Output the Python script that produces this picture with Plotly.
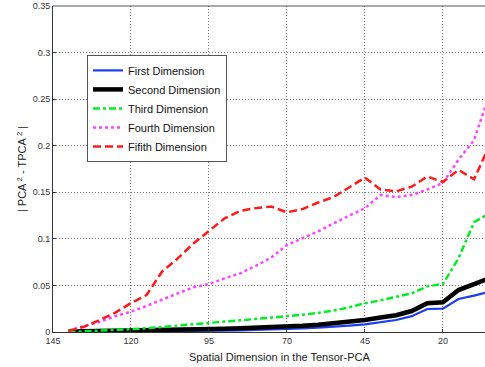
import plotly.graph_objects as go

x_vals = [140, 135, 130, 125, 120, 115, 110, 105, 100, 95, 90, 85, 80, 75, 70,
          65, 60, 55, 50, 45, 40, 35, 30, 25, 20, 15, 10, 5]

first_dim = [0.0000, 0.0001, 0.0002, 0.0002, 0.0003, 0.0005, 0.0006, 0.0008, 0.0010, 0.0012,
             0.0015, 0.0018, 0.0021, 0.0025, 0.0030, 0.0038, 0.0046, 0.0055, 0.0068, 0.0082,
             0.0105, 0.0129, 0.0170, 0.0247, 0.0250, 0.0354, 0.0390, 0.0433]
second_dim = [0.0005, 0.0007, 0.0009, 0.0011, 0.0013, 0.0016, 0.0019, 0.0022, 0.0025, 0.0030,
              0.0035, 0.0040, 0.0045, 0.0050, 0.0057, 0.0066, 0.0078, 0.0093, 0.0110, 0.0129,
              0.0155, 0.0180, 0.0225, 0.0310, 0.0320, 0.0450, 0.0515, 0.0580]
third_dim = [0.0000, 0.0006, 0.0012, 0.0020, 0.0030, 0.0040, 0.0055, 0.0070, 0.0090, 0.0100,
             0.0112, 0.0125, 0.0140, 0.0152, 0.0165, 0.0185, 0.0205, 0.0230, 0.0265, 0.0308,
             0.0340, 0.0380, 0.0415, 0.0490, 0.0515, 0.0790, 0.1180, 0.1275]
fourth_dim = [0.0014, 0.0060, 0.0110, 0.0170, 0.0218, 0.0280, 0.0350, 0.0415, 0.0480, 0.0515,
              0.0576, 0.0630, 0.0710, 0.0800, 0.0934, 0.1006, 0.1080, 0.1167, 0.1250, 0.1330,
              0.1470, 0.1450, 0.1470, 0.1530, 0.1600, 0.1850, 0.2060, 0.2560]
fifth_dim = [0.0014, 0.0057, 0.0129, 0.0208, 0.0310, 0.0397, 0.0650, 0.0790, 0.0950, 0.1080,
             0.1220, 0.1300, 0.1330, 0.1346, 0.1285, 0.1320, 0.1390, 0.1450, 0.1550, 0.1657,
             0.1530, 0.1510, 0.1560, 0.1670, 0.1610, 0.1740, 0.1640, 0.2010]

series = [
    ("First Dimension", first_dim, "#1a3ff0", 2.2, "solid"),
    ("Second Dimension", second_dim, "#000000", 4.5, "solid"),
    ("Third Dimension", third_dim, "#00ee22", 2.5, "7px,3px,3px,3px"),
    ("Fourth Dimension", fourth_dim, "#ff44ff", 2.5, "3px,3px"),
    ("Fifith Dimension", fifth_dim, "#ff1a1a", 2.5, "8px,4px"),
]

x_ticks = [145, 120, 95, 70, 45, 20]
y_ticks = [0, 0.05, 0.1, 0.15, 0.2, 0.25, 0.3, 0.35]
y_labels = ["0", "0.05", "0.1", "0.15", "0.2", "0.25", "0.3", "0.35"]

fig = go.Figure()
for name, vals, color, w, dash in series:
    fig.add_trace(go.Scatter(x=x_vals, y=vals, mode="lines", name=name,
                             line=dict(color=color, width=w, dash=dash)))

font_family = "Liberation Sans, Arial, sans-serif"

fig.update_layout(
    width=485, height=367,
    margin=dict(l=53, r=0, t=6, b=35),
    paper_bgcolor="white", plot_bgcolor="white",
    font=dict(family=font_family, size=11, color="#222"),
    showlegend=True,
    legend=dict(x=0.0787, y=0.85, xanchor="left", yanchor="top",
                bgcolor="white", bordercolor="#555", borderwidth=1,
                font=dict(size=11, color="#111"), tracegroupgap=0,
                itemwidth=30),
    xaxis=dict(range=[145, 6.5], tickmode="array", tickvals=x_ticks,
               ticktext=[str(t) for t in x_ticks],
               showgrid=True, gridcolor="#777", griddash="1px,2px", gridwidth=1,
               showline=True, linecolor="#333", linewidth=1,
               ticks="inside", ticklen=3, tickcolor="#333",
               tickfont=dict(size=9, color="#333"), zeroline=False),
    yaxis=dict(range=[0, 0.35], tickmode="array", tickvals=y_ticks, ticktext=y_labels,
               showgrid=True, gridcolor="#777", griddash="1px,2px", gridwidth=1,
               showline=True, linecolor="#333", linewidth=1,
               ticks="inside", ticklen=3, tickcolor="#333",
               tickfont=dict(size=9, color="#333"), zeroline=False,
               title=dict(text="| PCA<sup> 2</sup> - TPCA<sup> 2</sup> |",
                          font=dict(size=11, color="#222"), standoff=3)),
    shapes=[dict(type="line", xref="paper", yref="paper", x0=0, x1=1, y0=1, y1=1,
                 line=dict(color="#555", width=1))],
    annotations=[dict(text="Spatial Dimension in the Tensor-PCA", xref="paper", yref="paper",
                      x=0.525, y=-0.077, xanchor="center", yanchor="middle",
                      showarrow=False, font=dict(size=11, color="#222"))],
)

fig.write_html("out.html", config={"displayModeBar": False},
               post_script="document.body.style.margin='0';document.body.style.overflow='hidden';")
